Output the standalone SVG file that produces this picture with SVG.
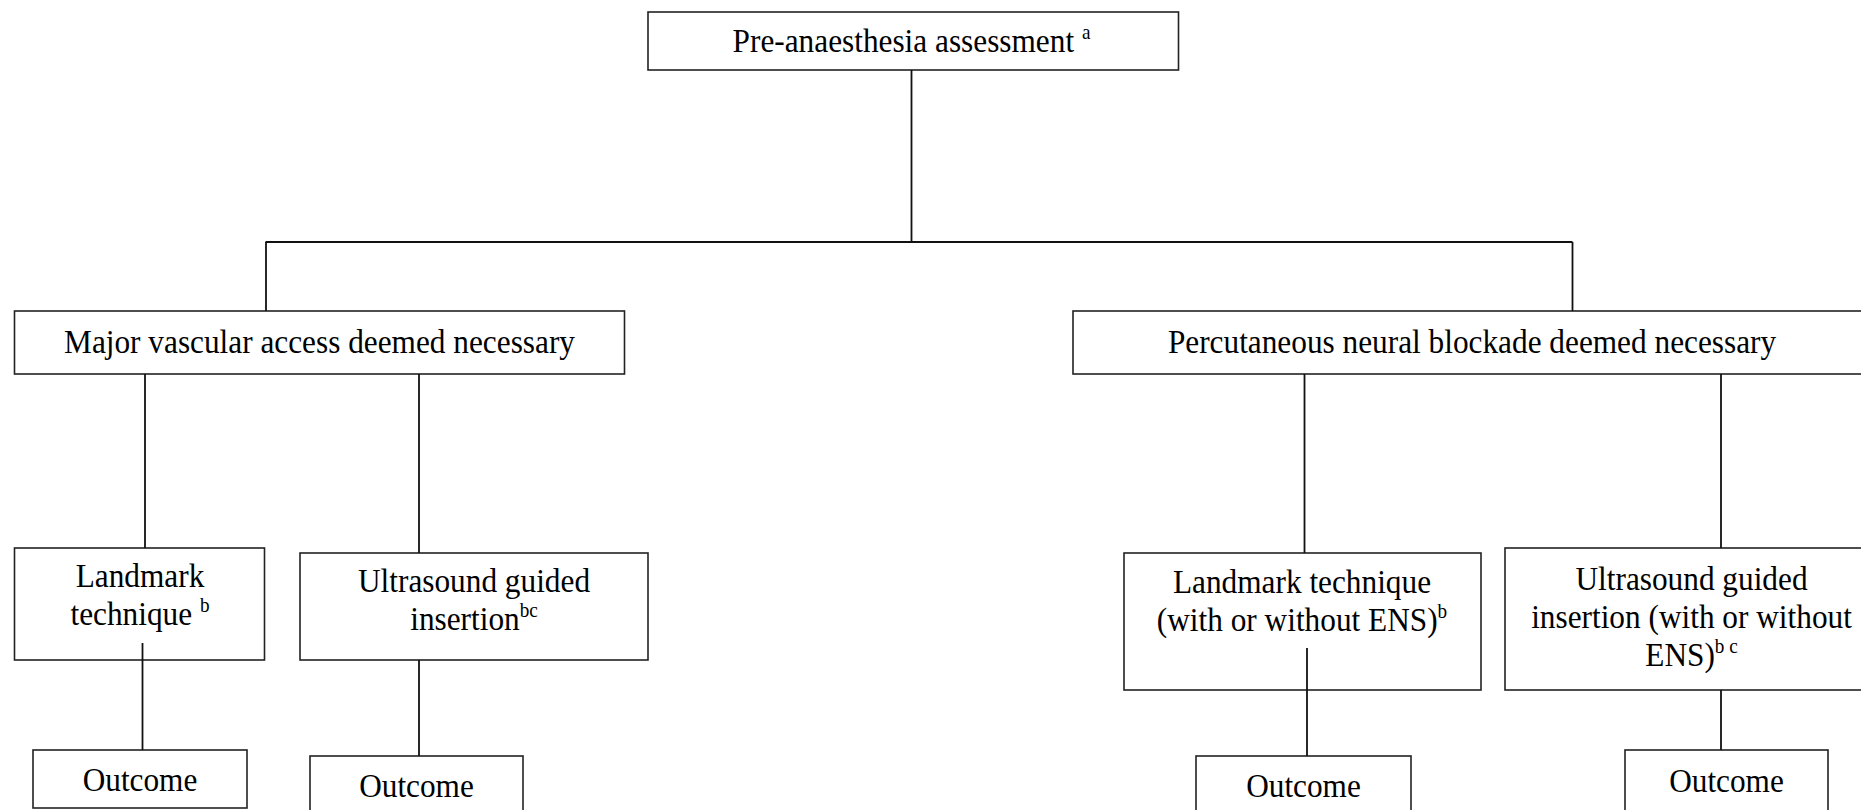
<svg xmlns="http://www.w3.org/2000/svg" width="1861" height="810" viewBox="0 0 1861 810">
<style>
.box{fill:#fff;stroke:#222;stroke-width:1.6}
.t{font-family:"Liberation Serif","Times New Roman",serif;font-size:31px;fill:#000;text-anchor:middle}
.sup{font-size:19px}
.c line{stroke:#111;stroke-width:1.8}
</style>
<rect width="1861" height="810" fill="#fff"/>
<g id="pre">
<rect class="box" x="648" y="12" width="530.5" height="58"/>
<text class="t" transform="translate(911.5,52) scale(1.01,1.1)">Pre-anaesthesia assessment <tspan class="sup" dy="-12">a</tspan></text>
</g>
<g id="major">
<rect class="box" x="14.5" y="311" width="610" height="63"/>
<text class="t" transform="translate(319.5,353) scale(1.01,1.1)">Major vascular access deemed necessary</text>
</g>
<g id="percutaneous">
<rect class="box" x="1073" y="311" width="800" height="63"/>
<text class="t" transform="translate(1472,353) scale(1.01,1.1)">Percutaneous neural blockade deemed necessary</text>
</g>
<g id="landmark1">
<rect class="box" x="14.5" y="548" width="250" height="112"/>
<text class="t" transform="translate(140,587) scale(1.01,1.1)">Landmark</text>
<text class="t" transform="translate(140,625) scale(1.01,1.1)">technique <tspan class="sup" dy="-12">b</tspan></text>
</g>
<g id="ultrasound1">
<rect class="box" x="300" y="553" width="348" height="107"/>
<text class="t" transform="translate(474,592) scale(1.01,1.1)">Ultrasound guided</text>
<text class="t" transform="translate(474,630) scale(1.01,1.1)">insertion<tspan class="sup" dy="-12">bc</tspan></text>
</g>
<g id="landmark2">
<rect class="box" x="1124" y="553" width="357" height="137"/>
<text class="t" transform="translate(1302,593) scale(1.01,1.1)">Landmark technique</text>
<text class="t" transform="translate(1302,631) scale(1.01,1.1)">(with or without ENS)<tspan class="sup" dy="-12">b</tspan></text>
</g>
<g id="ultrasound2">
<rect class="box" x="1505" y="548" width="375" height="142"/>
<text class="t" transform="translate(1691.5,590) scale(1.01,1.1)">Ultrasound guided</text>
<text class="t" transform="translate(1691.5,628) scale(1.01,1.1)">insertion (with or without</text>
<text class="t" transform="translate(1691.5,666) scale(1.01,1.1)">ENS)<tspan class="sup" dy="-12">b c</tspan></text>
</g>
<g id="outcome1">
<rect class="box" x="33" y="750" width="214" height="58"/>
<text class="t" transform="translate(140,791) scale(1.01,1.1)">Outcome</text>
</g>
<g id="outcome2">
<rect class="box" x="310" y="756" width="213" height="60"/>
<text class="t" transform="translate(416.5,797) scale(1.01,1.1)">Outcome</text>
</g>
<g id="outcome3">
<rect class="box" x="1196" y="756" width="215" height="60"/>
<text class="t" transform="translate(1303.5,797) scale(1.01,1.1)">Outcome</text>
</g>
<g id="outcome4">
<rect class="box" x="1625" y="750" width="203" height="62"/>
<text class="t" transform="translate(1726.5,792) scale(1.01,1.1)">Outcome</text>
</g>
<g class="c" id="connectors">
<line x1="911.5" y1="70" x2="911.5" y2="242"/>
<line x1="265.5" y1="242" x2="1572.5" y2="242"/>
<line x1="266" y1="242" x2="266" y2="311"/>
<line x1="1572.5" y1="242" x2="1572.5" y2="311"/>
<line x1="145" y1="374" x2="145" y2="548"/>
<line x1="419" y1="374" x2="419" y2="553"/>
<line x1="142.5" y1="643" x2="142.5" y2="750"/>
<line x1="419" y1="660" x2="419" y2="756"/>
<line x1="1304.5" y1="374" x2="1304.5" y2="553"/>
<line x1="1721" y1="374" x2="1721" y2="548"/>
<line x1="1307" y1="648" x2="1307" y2="756"/>
<line x1="1721" y1="690" x2="1721" y2="750"/>
</g>
</svg>
